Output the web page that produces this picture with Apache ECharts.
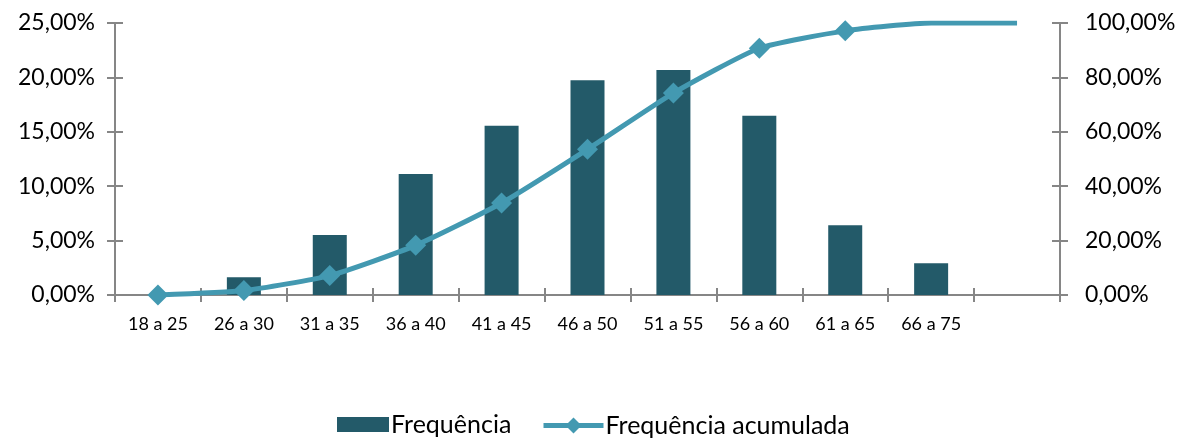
<!DOCTYPE html>
<html>
<head>
<meta charset="utf-8">
<script src="https://cdn.jsdelivr.net/npm/echarts@6/dist/echarts.min.js"></script>
<style>
  html, body { margin: 0; padding: 0; background: #fff; }
  #chart { width: 1189px; height: 438px; }
</style>
</head>
<body>
<div id="chart"></div>
<script>
// Age bands (last slot is an empty category that closes the axis)
const categories = ['18 a 25', '26 a 30', '31 a 35', '36 a 40', '41 a 45', '46 a 50', '51 a 55', '56 a 60', '61 a 65', '66 a 75', ''];
// Relative frequency per band (%)
const frequencia = [0, 1.63, 5.51, 11.12, 15.56, 19.73, 20.68, 16.48, 6.40, 2.91, null];
// Cumulative frequency (%)
const acumulada = [0, 1.63, 7.14, 18.26, 33.82, 53.55, 74.23, 90.71, 97.11, 100, 100];
// Points drawn without a marker
const noMarker = [9, 10];

const leftTicks = { min: 0, max: 25, interval: 5 };
const rightTicks = { min: 0, max: 100, interval: 20 };

const FONT = 'Lato';
const AXIS_COLOR = '#868686';
const BAR_COLOR = '#235A69';
const LINE_COLOR = '#4399B1';

const fmt = v => v.toFixed(2).replace('.', ',') + '%';

const axisLine = { show: true, lineStyle: { color: AXIS_COLOR, width: 2 } };

function valueAxis(pos, ticks, inside, showLabel, margin) {
  return {
    type: 'value', position: pos,
    min: ticks.min, max: ticks.max, interval: ticks.interval,
    axisLine: axisLine,
    axisTick: { show: true, inside: inside, length: 8, lineStyle: { color: AXIS_COLOR, width: 2 } },
    axisLabel: showLabel ? { show: true, formatter: fmt, fontFamily: FONT, fontSize: 23, color: '#000', margin: margin } : { show: false },
    splitLine: { show: false }
  };
}

function catAxis(inside, showLabel) {
  return {
    type: 'category', data: categories, position: 'bottom',
    axisLine: axisLine,
    axisTick: { show: true, inside: inside, length: 7, lineStyle: { color: AXIS_COLOR, width: 2 } },
    axisLabel: showLabel ? { show: true, fontFamily: FONT, fontSize: 18, color: '#000', margin: 20, interval: 0 } : { show: false }
  };
}

const lineData = acumulada.map((v, i) => noMarker.includes(i) ? { value: v, symbolSize: 0 } : v);

const legendText = { fontFamily: FONT, fontSize: 25, color: '#000', padding: [0, 0, 0, -3] };

const chart = echarts.init(document.getElementById('chart'), null, { renderer: 'canvas' });
chart.setOption({
  animation: false,
  backgroundColor: '#fff',
  grid: { left: 115, right: 129, top: 23, bottom: 143 },
  xAxis: [catAxis(false, true), catAxis(true, false)],
  yAxis: [
    valueAxis('left', leftTicks, false, true, 20),
    valueAxis('right', rightTicks, false, true, 25),
    valueAxis('left', leftTicks, true, false, 0),
    valueAxis('right', rightTicks, true, false, 0)
  ],
  legend: [
    {
      left: 337, top: 412, padding: 0,
      itemWidth: 52, itemHeight: 15,
      textStyle: legendText,
      data: [{ name: 'Frequência', icon: 'rect' }]
    },
    {
      left: 541, top: 413, padding: 0,
      itemWidth: 60, itemHeight: 20,
      textStyle: legendText,
      data: [{ name: 'Frequência acumulada', lineStyle: { width: 5 } }]
    }
  ],
  series: [
    {
      name: 'Frequência', type: 'bar', xAxisIndex: 0, yAxisIndex: 0,
      data: frequencia, barWidth: 34,
      itemStyle: { color: BAR_COLOR }
    },
    {
      name: 'Frequência acumulada', type: 'line', xAxisIndex: 0, yAxisIndex: 1,
      data: lineData, smooth: 0.18,
      symbol: 'diamond', symbolSize: 21,
      lineStyle: { color: LINE_COLOR, width: 5 },
      itemStyle: { color: LINE_COLOR }
    }
  ]
});
</script>
</body>
</html>
